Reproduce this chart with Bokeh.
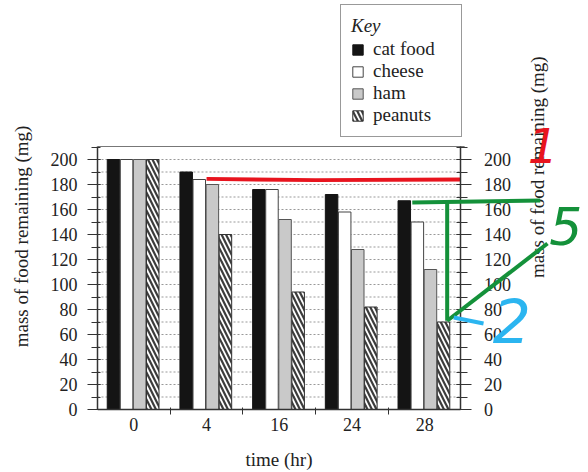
import math
from bokeh.plotting import figure
from bokeh.models import (Range1d, LinearAxis, FixedTicker, Legend, LegendItem, Arrow, Label,
                          ColumnDataSource)
from bokeh.embed import file_html
from bokeh.resources import INLINE

# ---- data ----
times = ["0", "4", "16", "24", "28"]
cat_food = [200, 190, 176, 172, 167]
cheese = [200, 184, 176, 158, 150]
ham = [200, 180, 152, 128, 112]
peanuts = [200, 140, 94, 82, 70]
y_major = list(range(0, 201, 20))
y_minor = list(range(0, 211, 10))
grid_levels = list(range(10, 201, 10))

# chart box (data units): x spans the five groups, y tops out a little above 200
x_lo, x_hi = -0.5, 4.5
y_lo, y_hi = 0, 210.4

# handwritten annotations (data coordinates)
red_line_x = [1.0, 2.5, 4.5]
red_line_y = [184.5, 183.5, 184.0]
green_segments = [  # (x0, y0, x1, y1)
    (3.83, 165.6, 5.59, 167.2),
    (4.31, 165.6, 4.31, 71.0),
    (4.31, 71.0, 5.69, 132.8),
]
blue_segment = (4.40, 73.6, 4.81, 68.8)
notes = [("1", 5.63, 211.0, "#e8141e", "48px"),
         ("5", 5.94, 147.0, "#14913a", "52px"),
         ("2", 5.20, 71.0, "#2bb5f0", "60px")]

FONT = "Liberation Serif"
idx = list(range(len(times)))
width = 0.172
offsets = [-0.28, -0.10, 0.08, 0.26]

p = figure(width=588, height=472, x_range=Range1d(x_lo, 6.254), y_range=Range1d(-50.4, 327.2),
           output_backend="svg", toolbar_location=None,
           min_border_left=97, min_border_right=0, min_border_top=0, min_border_bottom=0)
p.outline_line_color = None
p.xgrid.visible = False
p.ygrid.visible = False

# dotted gridlines and top frame line, limited to the chart box
p.segment(x0=x_lo, x1=x_hi, y0=grid_levels, y1=grid_levels, line_color="#999999",
          line_dash="2 2", line_width=1, level="underlay")
p.segment(x0=[x_lo], x1=[x_hi + 0.05], y0=[y_hi], y1=[y_hi], line_color="#777777", line_width=1.2)

series = [
    ("cat food", cat_food, dict(fill_color="#141414", line_color="#141414")),
    ("cheese", cheese, dict(fill_color="#ffffff", line_color="#444444")),
    ("ham", ham, dict(fill_color="#c9c9c9", line_color="#555555")),
    ("peanuts", peanuts, dict(fill_color="#3c3c3c", line_color="#333333",
                              hatch_pattern="\\", hatch_color="#ffffff",
                              hatch_scale=9, hatch_weight=1.8)),
]
items = []
for (name, vals, style), off in zip(series, offsets):
    src = ColumnDataSource(dict(x=[i + off for i in idx], top=vals))
    r = p.vbar(x="x", top="top", width=width, bottom=0, source=src, line_width=1, **style)
    items.append(LegendItem(label=name, renderers=[r]))

# handwritten annotations
p.line(red_line_x, red_line_y, line_color="#e8141e", line_width=4)
for (x0, y0, x1, y1) in green_segments:
    p.add_layout(Arrow(x_start=x0, y_start=y0, x_end=x1, y_end=y1, end=None,
                       line_color="#14913a", line_width=4))
bx0, by0, bx1, by1 = blue_segment
p.add_layout(Arrow(x_start=bx0, y_start=by0, x_end=bx1, y_end=by1, end=None,
                   line_color="#2bb5f0", line_width=4))
for t, x, y, c, fs in notes:
    p.add_layout(Label(x=x, y=y, text=t, text_color=c, text_font="DejaVu Sans",
                       text_font_style="italic", text_font_size=fs,
                       text_align="center", text_baseline="middle"))

# axes
def style_y(ax, tin, tout):
    ax.ticker = FixedTicker(ticks=y_major, minor_ticks=y_minor)
    ax.bounds = (y_lo, y_hi)
    ax.axis_label = "mass of food remaining (mg)"
    ax.axis_label_text_font = FONT
    ax.axis_label_text_font_size = "19px"
    ax.axis_label_text_font_style = "normal"
    ax.axis_label_text_color = "#222222"
    ax.major_label_text_font = FONT
    ax.major_label_text_font_size = "18px"
    ax.major_label_text_color = "#222222"
    ax.axis_line_color = "#333333"
    ax.axis_line_width = 1.5
    ax.major_tick_line_color = "#333333"
    ax.minor_tick_line_color = "#333333"
    ax.major_tick_in = tin
    ax.major_tick_out = tout
    ax.minor_tick_in = tin
    ax.minor_tick_out = tout - 4

yl = p.yaxis[0]
style_y(yl, 3, 10)
yl.major_label_standoff = 10
yl.axis_label_standoff = 16
yr = LinearAxis(fixed_location=x_hi)
style_y(yr, 4, 11)
yr.major_label_standoff = 12
yr.axis_label_standoff = 24
yr.axis_label_orientation = math.pi / 2
p.add_layout(yr, "right")

xa = p.xaxis[0]
xa.fixed_location = y_lo
xa.bounds = (x_lo, x_hi)
xa.ticker = FixedTicker(ticks=idx, minor_ticks=[0.5, 1.5, 2.5, 3.5])
xa.major_label_overrides = {i: t for i, t in zip(idx, times)}
xa.major_tick_line_color = None
xa.major_tick_out = 0
xa.major_tick_in = 0
xa.minor_tick_line_color = "#333333"
xa.minor_tick_in = 2
xa.minor_tick_out = 5
xa.major_label_standoff = 3
xa.axis_line_color = "#333333"
xa.axis_line_width = 1.5
xa.axis_label = "time (hr)"
xa.axis_label_text_font = FONT
xa.axis_label_text_font_size = "19px"
xa.axis_label_text_font_style = "normal"
xa.axis_label_text_color = "#222222"
xa.axis_label_standoff = 15
xa.major_label_text_font = FONT
xa.major_label_text_font_size = "18px"
xa.major_label_text_color = "#222222"

legend = Legend(items=items, title="Key", location=(243, 335),
                title_text_font=FONT, title_text_font_size="19px", title_text_font_style="italic",
                title_text_color="#222222",
                label_text_font=FONT, label_text_font_size="19px", label_text_color="#222222",
                glyph_width=13, glyph_height=13, label_height=20, label_width=78,
                label_standoff=9, spacing=0, padding=10, title_standoff=1,
                border_line_color="#333333", border_line_width=1.5,
                background_fill_color="#ffffff", background_fill_alpha=1.0)
p.add_layout(legend, "center")

open("out.html", "w").write(file_html(p, INLINE))
